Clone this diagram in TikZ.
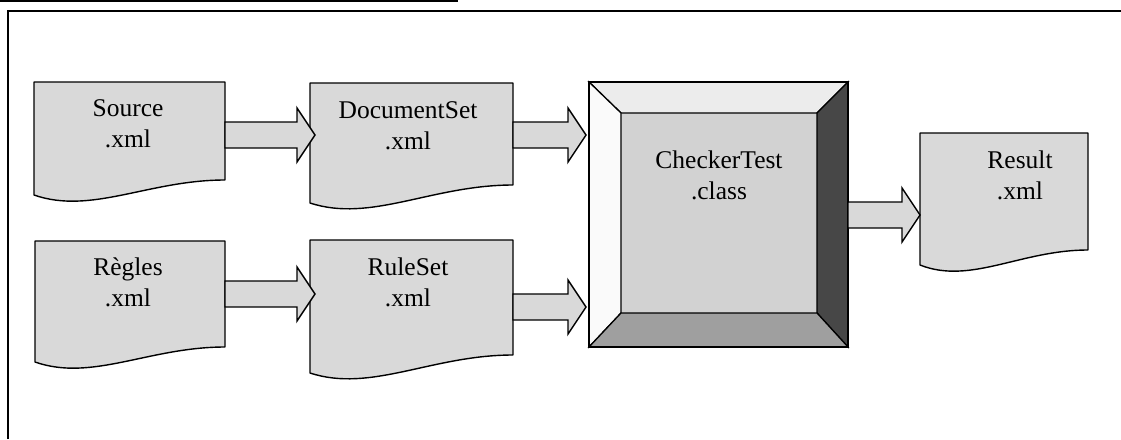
\documentclass[tikz,border=0pt]{standalone}
\usepackage{fontspec}
\setmainfont{Liberation Serif}
\usetikzlibrary{calc}
\tikzset{
  boxframe/.style={draw=none,inner sep=0pt,outer sep=0pt,rectangle},
  docsty/.style={draw=black,line width=1.4pt,fill=gray!30,line join=round},
  arrowsty/.style={draw=black,line width=1.4pt,fill=gray!30,line join=miter},
  lbl/.style={align=center,inner sep=0pt,font=\fontsize{25.5}{31}\selectfont},
  bevel/.style={draw=black,line width=1.3pt,line join=miter},
}
% document shape drawn around an invisible frame node: #1 name, #2 rise of right corner
\newcommand\docpath[2]{%
  \draw[docsty] let \p1=(#1.north west), \p2=(#1.south east), \n1={\x2-\x1} in
    (\p1) -- (\x2,\y1) -- (\x2,\y2+#2)
    .. controls (\x2-0.4*\n1,\y2+#2) and (\x1+0.3*\n1,\y2-20pt) .. (\x1,\y2) -- cycle;}
% block arrow from node #1 to node #2 at height #3 (pixels from top), tip shifted by #4
\newcommand\blockarrow[4]{%
  \draw[arrowsty] let \p1=(#1.east), \p2=(#2.west), \p3=(0,#3) in
    (\x1,\y3+13pt) -- (\x2+#4-18pt,\y3+13pt) -- (\x2+#4-18pt,\y3+27pt) -- (\x2+#4,\y3)
    -- (\x2+#4-18pt,\y3-27pt) -- (\x2+#4-18pt,\y3-13pt) -- (\x1,\y3-13pt) -- cycle;}
\begin{document}
\begin{tikzpicture}[x=1pt,y=-1pt]
\useasboundingbox (0,0) rectangle (1121,439);
% frame
\draw[line width=1.5pt] (0,1) -- (458,1);
\draw[line width=2pt] (8,439) -- (8,11) -- (1121,11);

% invisible frames of the shapes
\node[boxframe,minimum width=191pt,minimum height=113pt] (src) at (129.5,138.5) {};
\node[boxframe,minimum width=203pt,minimum height=120pt] (docset) at (411.5,143) {};
\node[boxframe,minimum width=190pt,minimum height=121pt] (regles) at (130,301.5) {};
\node[boxframe,minimum width=203pt,minimum height=133pt] (ruleset) at (411.5,306.5) {};
\node[boxframe,minimum width=168pt,minimum height=132pt] (result) at (1004,199) {};
\node[boxframe,minimum width=259pt,minimum height=265pt] (checker) at (718.5,214.5) {};
\node[boxframe,minimum width=196pt,minimum height=200pt] (checkerIn) at (719,213) {};

% documents
\docpath{src}{15pt}
\docpath{docset}{18pt}
\docpath{regles}{15pt}
\docpath{ruleset}{18pt}
\docpath{result}{15pt}

% bevelled box
\fill[gray!35] (checkerIn.north west) rectangle (checkerIn.south east);
\draw[bevel,fill=gray!15] (checker.north west) -- (checker.north east) -- (checkerIn.north east) -- (checkerIn.north west) -- cycle;
\draw[bevel,fill=gray!4] (checker.north west) -- (checkerIn.north west) -- (checkerIn.south west) -- (checker.south west) -- cycle;
\draw[bevel,fill=black!72] (checker.north east) -- (checker.south east) -- (checkerIn.south east) -- (checkerIn.north east) -- cycle;
\draw[bevel,fill=gray!75] (checker.south west) -- (checkerIn.south west) -- (checkerIn.south east) -- (checker.south east) -- cycle;
\draw[bevel] (checker.north west) rectangle (checker.south east);

% arrows
\blockarrow{src}{docset}{135}{5pt}
\blockarrow{docset}{checker}{135}{-3pt}
\blockarrow{regles}{ruleset}{294}{5pt}
\blockarrow{ruleset}{checker}{307}{-3pt}
\blockarrow{checker}{result}{215}{0pt}

% labels
\node[lbl] (srcT) at (128,124) {Source\\.xml};
\node[lbl] (docsetT) at (408,126) {DocumentSet\\.xml};
\node[lbl] (reglesT) at (128,282) {Règles\\.xml};
\node[lbl] (rulesetT) at (408,282) {RuleSet\\.xml};
\node[lbl] (checkerT) at (719,175) {CheckerTest\\.class};
\node[lbl] (resultT) at (1020,175) {Result\\.xml};
\end{tikzpicture}
\end{document}
